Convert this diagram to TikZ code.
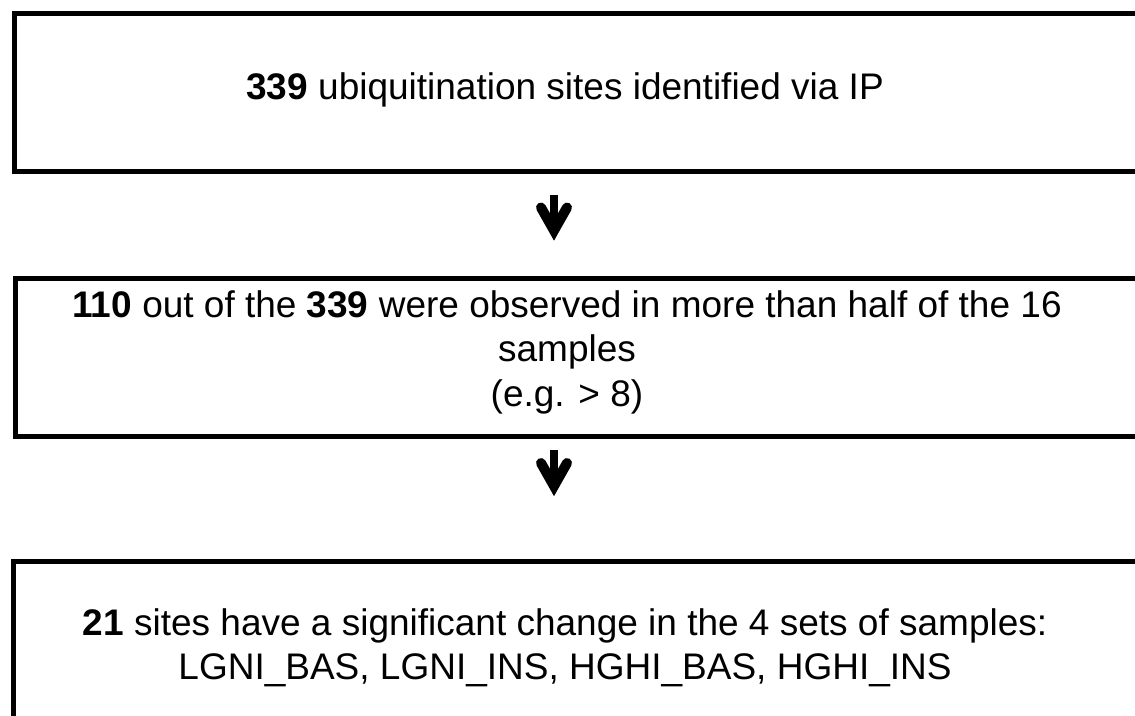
\documentclass[tikz,border=0pt]{standalone}
\usepackage{fontspec}
\setmainfont{Liberation Sans}
\begin{document}
\begin{tikzpicture}[x=1pt,y=-1pt,
  box/.style={draw=black,line width=5pt,line join=miter,inner sep=0pt,anchor=north west},
  txt/.style={align=center,inner sep=0pt,font=\fontsize{37}{44.5}\selectfont},
  shaft/.style={line width=8.5pt},
  head/.style={line width=10pt,line cap=round,line join=miter,miter limit=10}]
\useasboundingbox (0,0) rectangle (1135,715);
\clip (0,0) rectangle (1135,715);
\fill[white] (0,0) rectangle (1135,715);
\node[box,minimum width=1150pt,minimum height=158pt] (b1) at (12,10.5) {};
\node[box,minimum width=1150pt,minimum height=158.5pt] (b2) at (12.5,275.5) {};
\node[box,minimum width=1150pt,minimum height=200pt] (b3) at (10.5,559) {};
\node[txt] (t1) at (565,90) {\textbf{339} ubiquitination sites identified via IP};
\node[txt] (t2) at (567,352) {\textbf{110} out of the \textbf{339} were observed in more than half of the 16\\samples\\(e.g. > 8)};
\node[txt] (t3) at (565,648) {\textbf{21} sites have a significant change in the 4 sets of samples:\\LGNI\_BAS, LGNI\_INS, HGHI\_BAS, HGHI\_INS};
\coordinate (ax) at (554,0);
% arrow 1
\draw[shaft] ([yshift=-21.5pt]b1.south -| ax) -- ([yshift=45pt]b2.north -| ax);
\draw[head] ([xshift=-13pt,yshift=68pt]b2.north -| ax) -- ([yshift=45pt]b2.north -| ax) -- ([xshift=13pt,yshift=68pt]b2.north -| ax);
% arrow 2
\draw[shaft] ([yshift=-11pt]b2.south -| ax) -- ([yshift=73pt]b3.north -| ax);
\draw[head] ([xshift=-13pt,yshift=96pt]b3.north -| ax) -- ([yshift=73pt]b3.north -| ax) -- ([xshift=13pt,yshift=96pt]b3.north -| ax);
\end{tikzpicture}
\end{document}
